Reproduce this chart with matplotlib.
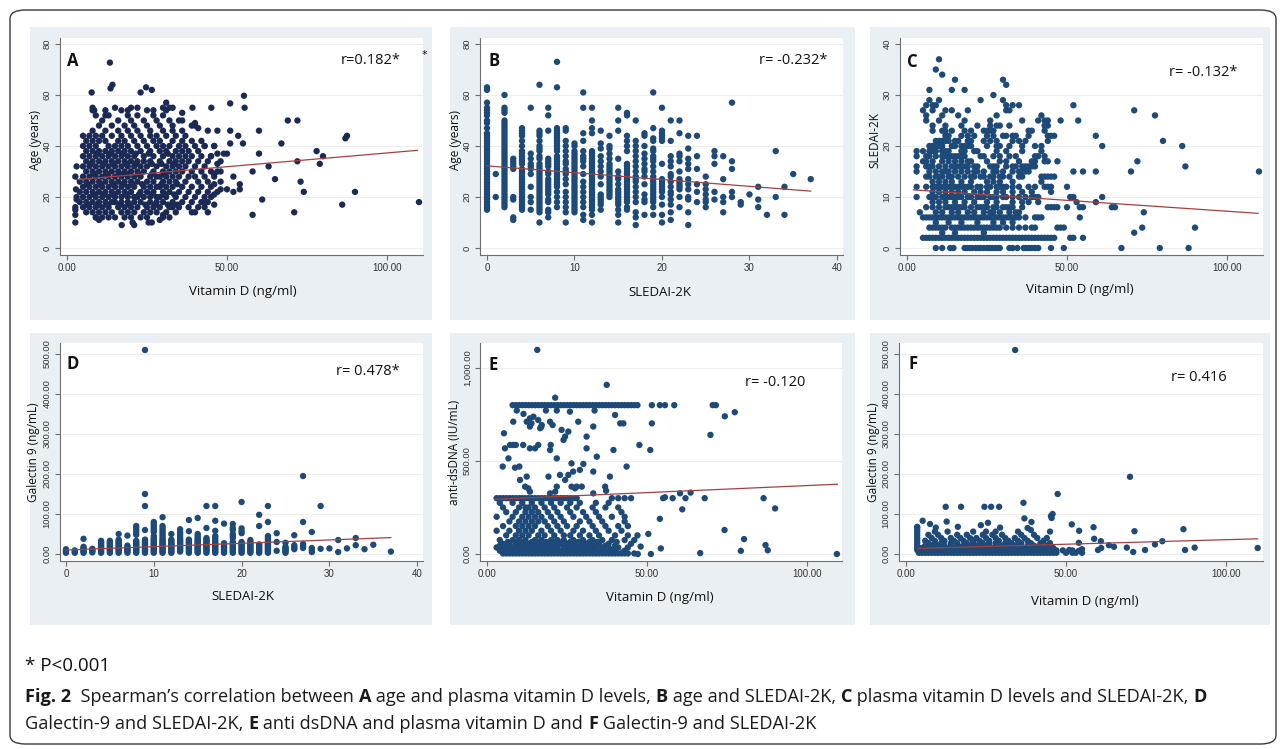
import matplotlib
matplotlib.use('Agg')
import matplotlib.pyplot as plt
from matplotlib.patches import Rectangle, FancyBboxPatch
from matplotlib import font_manager

# ---------------- DATA ----------------
# Panel A: Vitamin D (x) vs Age (y)
a_age_rows = [12, 14, 16, 18, 20, 22, 24, 26, 28, 30, 32, 34, 36, 38, 40, 42, 44, 46, 48, 50, 52, 54,
              17, 21, 25, 29, 33, 37]
a_vitd_rows = [
    [9, 11, 13, 15, 18, 20, 23, 25, 30, 32],
    [6, 8, 10, 12, 14, 17, 19, 21, 24, 26, 28, 31, 34, 40],
    [5, 7, 9, 11, 13, 16, 18, 20, 22, 25, 27, 29, 32, 35, 38, 43],
    [4, 6, 8, 10, 12, 14, 15, 17, 19, 21, 23, 26, 28, 30, 33, 36, 39, 42, 44],
    [5, 7, 9, 11, 13, 15, 17, 19, 21, 22, 24, 26, 28, 29, 31, 34, 37, 40, 43, 45],
    [4, 6, 8, 10, 12, 14, 16, 18, 20, 23, 25, 27, 30, 32, 35, 38, 41, 44, 47],
    [5, 7, 9, 11, 13, 15, 17, 19, 21, 24, 26, 28, 29, 31, 33, 36, 39, 42, 45],
    [4, 6, 8, 10, 12, 14, 16, 18, 20, 22, 25, 27, 30, 32, 34, 37, 41, 44, 48],
    [5, 7, 9, 11, 13, 15, 17, 19, 21, 23, 26, 28, 29, 31, 33, 35, 38, 40, 43, 46],
    [6, 8, 10, 12, 14, 16, 18, 20, 22, 24, 27, 30, 32, 34, 36, 39, 42, 45, 47],
    [5, 7, 9, 11, 13, 15, 17, 19, 21, 23, 25, 28, 31, 33, 35, 37, 40, 43],
    [6, 8, 10, 12, 14, 16, 18, 20, 22, 24, 26, 29, 32, 34, 36, 38, 41, 44, 48],
    [5, 7, 9, 11, 13, 15, 17, 19, 21, 24, 27, 30, 33, 35, 37, 39, 42, 45],
    [6, 8, 10, 12, 14, 16, 18, 20, 23, 26, 29, 31, 34, 36, 38, 41],
    [5, 7, 9, 13, 15, 17, 19, 22, 25, 28, 30, 32, 35, 37, 40, 43, 46],
    [6, 8, 10, 12, 16, 18, 21, 24, 27, 29, 33, 36, 39, 42],
    [5, 7, 9, 11, 14, 17, 20, 23, 26, 28, 31, 34, 37],
    [8, 12, 16, 19, 22, 26, 30, 33, 36],
    [10, 14, 18, 21, 25, 29, 33, 39],
    [11, 16, 20, 24, 28, 32, 36],
    [9, 13, 19, 22, 27, 30],
    [8, 12, 17, 25, 31],
    [6.5, 9.5, 12.5, 16.5, 19.5, 24.5, 27.5, 31.5, 34.5],
    [8.5, 11.5, 14.5, 18.5, 22.5, 26.5, 30.5, 33.5],
    [6.5, 10.5, 14.5, 17.5, 20.5, 23.5, 29.5, 34.5],
    [8.5, 12.5, 16.5, 18.5, 22.5, 26.5, 30.5],
    [7.5, 11.5, 14.5, 18.5, 21.5, 26.5, 29.5, 33.5],
    [9.5, 13.5, 17.5, 21.5, 25.5, 31.5],
]
a_vitd_extra = [13.4, 14.2, 13.6, 7.7, 23, 24.7, 26.5, 55.3, 51, 55.5, 45.1, 39.2, 31, 30, 32, 36, 40, 40,
                44, 47, 51, 53.5, 55, 60, 51, 46, 47, 67, 69, 72, 87, 87.5, 78, 79, 80, 72, 65, 63, 60, 58,
                73, 74, 90, 86, 71, 58, 61, 110, 52, 52, 54, 54, 50, 50, 49, 48, 46, 46, 44, 39, 41, 2.6,
                2.6, 2.6, 2.6, 2.8, 2.6, 3, 17.1, 20.5, 21, 25.5, 26.5, 29, 30, 33, 9, 10, 8, 8.5, 15, 12,
                20, 19, 22, 27, 33, 35, 41, 43, 45, 47, 46, 48, 46, 43, 3, 3]
a_age_extra = [72.7, 64, 62.6, 61, 61, 63, 62, 59.7, 56.7, 55, 55, 55, 57, 55, 55, 53, 49, 48,
               46, 46, 46, 44, 41, 46, 41, 40, 37, 41, 50, 50, 43, 44, 38, 33, 36, 34, 27, 32, 37, 30,
               26, 22, 22, 17, 14, 13, 19, 18, 28, 22, 23, 25, 23, 37, 37, 30, 25, 17, 14, 14, 16, 10,
               13, 15, 16, 23, 28, 32, 9, 10, 9, 10, 10, 11, 13, 16, 12, 11, 55, 54, 55, 52,
               55, 54, 55, 54, 55, 50, 47, 40, 36, 33, 29, 23, 21, 18, 19, 20]
a_fit_x = [3, 109.5]
a_fit_y = [26.8, 38.3]

# Panel B: SLEDAI-2K (x) vs Age (y)
b_sledai_levels = [0, 1, 2, 3, 4, 5, 6, 7, 8, 9, 10, 11, 12, 13, 14, 15, 16, 17, 18, 19, 20,
                   21, 22, 23, 24, 25, 26, 27, 28, 29, 30, 31, 32, 33, 34, 35, 37]
b_age_groups = [
    [15, 16, 17, 18, 19, 20, 21, 22, 23, 24, 25, 26, 27, 28, 29, 30, 31, 32, 33, 34, 35, 36, 37, 38,
     39, 40, 41, 42, 43, 44, 45, 47, 49, 50, 52, 53, 54, 55, 57, 62, 63],
    [20, 29],
    [16, 17, 18, 19, 20, 21, 22, 23, 24, 25, 26, 27, 28, 29, 30, 31, 32, 33, 34, 35, 36, 37, 38, 39,
     40, 41, 42, 43, 44, 45, 46, 47, 48, 49, 50, 53, 54, 55, 60],
    [11, 12, 19, 20, 31, 32, 33, 34, 35],
    [15, 16, 17, 18, 19, 20, 21, 22, 23, 24, 25, 26, 27, 28, 29, 30, 31, 33, 34, 35, 36, 37, 38, 40,
     42, 44, 45, 46, 47],
    [15, 18, 20, 24, 29, 31, 32, 33, 35, 37, 55],
    [10, 14, 15, 16, 17, 18, 19, 20, 21, 22, 23, 24, 25, 26, 27, 28, 29, 30, 31, 32, 33, 35, 36, 38,
     39, 40, 42, 44, 45, 46, 64],
    [12, 14, 15, 18, 19, 21, 22, 23, 24, 25, 26, 27, 29, 30, 32, 33, 34, 35, 46, 52, 55],
    [16, 18, 20, 22, 24, 25, 26, 27, 28, 29, 30, 31, 32, 33, 34, 35, 36, 38, 39, 40, 41, 42, 43, 44,
     45, 46, 47, 63, 73],
    [10, 14, 16, 18, 20, 22, 25, 27, 29, 30, 31, 33, 34, 36, 38, 40, 42, 46, 47],
    [14, 15, 16, 17, 18, 19, 20, 21, 22, 23, 24, 25, 26, 27, 28, 29, 30, 31, 32, 33, 34, 35, 36, 37,
     38, 40, 41],
    [11, 13, 16, 18, 20, 22, 24, 26, 29, 32, 34, 35, 36, 38, 42, 45, 55, 61],
    [10, 13, 15, 16, 17, 18, 19, 20, 21, 22, 23, 24, 25, 26, 27, 28, 29, 30, 31, 32, 33, 34, 35, 36,
     37, 38, 45, 47, 50, 55],
    [15, 17, 18, 19, 20, 21, 25, 28, 30, 32, 34, 36, 39, 41, 46],
    [20, 21, 22, 23, 24, 25, 26, 27, 28, 29, 30, 31, 32, 33, 35, 37, 39, 40, 44],
    [10, 13, 15, 17, 18, 19, 20, 21, 22, 23, 25, 27, 28, 30, 35, 46, 50, 55],
    [15, 16, 18, 19, 20, 21, 22, 23, 24, 25, 26, 27, 28, 29, 30, 31, 32, 33, 38, 40, 42, 44, 52, 53],
    [9, 12, 14, 18, 20, 22, 24, 26, 27, 28, 30, 32, 34, 36, 38, 40, 42, 50],
    [13, 18, 19, 21, 25, 28, 30, 31, 33, 35, 37, 40, 44, 45],
    [13, 16, 18, 19, 20, 21, 22, 23, 24, 25, 26, 27, 28, 30, 32, 34, 35, 36, 38, 39, 42, 43, 47, 61],
    [10, 13, 17, 20, 22, 23, 24, 25, 26, 27, 33, 42, 43, 44, 45, 46, 55],
    [11, 14, 17, 19, 21, 22, 24, 26, 28, 29, 32, 34, 36, 42, 50],
    [16, 20, 23, 24, 25, 26, 27, 30, 34, 36, 37, 45, 50],
    [9, 14, 19, 20, 23, 25, 27, 31, 33, 35, 39, 44],
    [18, 22, 25, 31, 36, 44],
    [16, 18, 19, 21, 23, 25, 28],
    [19, 22, 33, 36, 38],
    [14, 18, 20, 27, 36],
    [20, 22, 31, 34, 57],
    [17, 18],
    [21],
    [16, 19, 24],
    [13],
    [20, 38],
    [13, 24],
    [29],
    [27],
]
b_fit_x = [0, 37]
b_fit_y = [32.2, 22.3]

# Panel C: Vitamin D (x) vs SLEDAI-2K (y)
c_sledai_levels = [0, 2, 3, 4, 5, 6, 7, 8, 9, 10, 11, 12, 13, 14, 15, 16, 17, 18, 19, 20, 21, 22,
                   23, 24, 25, 26, 27, 28, 29, 30, 31, 32, 33, 34, 35, 37]
c_vitd_groups = [
    [9, 11, 13.5, 14.5, 18, 18.8, 19.6, 20.4, 21.5, 22.3, 23, 24, 25, 25.8, 26.6, 27.5, 28.3, 29, 32,
     33, 34.5, 36.5, 37.3, 38.2, 39, 40, 41, 45, 49, 67, 79, 88],
    [5, 6, 7, 8, 9, 10, 11, 12, 13, 14, 15, 16, 17, 18, 19, 20, 21, 22, 23, 24, 25, 26, 27, 28, 29,
     30, 31, 32, 33, 34, 35, 36, 37, 38, 39, 40, 41, 42, 43, 44, 45, 46, 51, 52, 55],
    [11, 15, 24, 71],
    [7, 8, 9, 10, 11, 12, 14, 15, 16, 17, 18, 19, 20, 21, 22, 23, 24, 25, 26, 27, 28, 29, 31, 33, 35,
     37, 39, 40, 47, 48, 49, 73.5, 90],
    [9, 13, 17, 22, 27, 30, 33],
    [5, 6, 7, 8, 9, 10, 11, 12, 13, 14, 15, 16, 17, 18, 19, 20, 21, 22, 23, 24, 25, 26, 27, 28, 29,
     30, 31, 32, 33, 34, 35, 37, 40, 41, 42, 54],
    [4, 9, 11, 14, 16, 19, 21, 24, 26, 27, 29, 32, 34, 35, 74],
    [6, 8, 10, 12, 13, 14, 15, 16, 17, 18, 20, 22, 23, 24, 25, 27, 28, 30, 31, 32, 33, 36, 44, 45, 46,
     47, 50, 54, 55, 64, 65],
    [8, 10, 12, 15, 18, 21, 25, 28, 33, 36, 38, 41, 53, 59],
    [3, 7, 8, 9, 11, 12, 13, 14, 15, 16, 17, 19, 20, 22, 23, 24, 26, 27, 28, 30, 31, 33, 35, 37, 39,
     40, 41, 51, 52, 61],
    [8, 10, 12, 14, 16, 18, 21, 23, 25, 28, 30, 33, 36, 39, 45],
    [3, 6, 8, 9, 10, 11, 12, 13, 14, 15, 16, 17, 18, 19, 20, 22, 23, 25, 26, 28, 29, 30, 31, 33, 35,
     38, 40, 43, 44, 45, 50],
    [8, 10, 12, 14, 17, 20, 25, 27, 29, 33, 42],
    [6, 7, 9, 10, 11, 13, 14, 16, 18, 20, 21, 23, 24, 26, 27, 29, 30, 32, 35, 36, 42, 43, 44, 45, 46],
    [3, 7, 9, 11, 12, 13, 15, 17, 19, 21, 22, 24, 27, 28, 30, 33, 35, 36, 37, 38, 52, 55, 59, 70, 110],
    [3, 6, 7, 8, 10, 12, 14, 15, 16, 17, 18, 19, 21, 22, 26, 27, 28, 31, 33, 34, 36, 37, 38, 39, 40, 87],
    [5, 6, 8, 11, 13, 15, 17, 19, 20, 25, 29, 31, 35, 39, 40, 43, 44, 47, 72],
    [3, 6, 7, 9, 11, 12, 13, 14, 15, 16, 17, 18, 23, 24, 27, 29, 32, 34, 40, 41, 43],
    [3, 5, 7, 8, 9, 11, 12, 13, 17, 18, 21, 22, 28, 31, 36, 42],
    [7, 8, 9, 10, 11, 14, 15, 17, 18, 19, 20, 25, 28, 29, 32, 36, 40, 42, 61, 86],
    [9, 10, 11, 12, 13, 15, 16, 19, 20, 24, 26, 28, 33, 35, 37, 44, 80],
    [12, 13, 17, 19, 21, 25, 27, 30, 31, 33, 34, 38, 44, 45, 46, 59],
    [8, 11, 12, 14, 18, 20, 24, 25, 26, 27, 38, 39, 43],
    [8, 12, 17, 22, 26, 28, 29, 32, 43, 44],
    [6, 10, 18, 26, 36, 41, 43, 44, 48, 53.5],
    [6, 11, 16, 28, 42, 77.5],
    [5, 8, 12, 14, 19, 31, 32, 71],
    [6, 8, 9, 31, 33, 35, 52],
    [7, 10, 23, 30],
    [27],
    [7, 14, 18],
    [31],
    [15, 30],
    [11],
    [9],
    [10],
]
c_fit_x = [2, 109.7]
c_fit_y = [11.4, 6.8]

# Panel D: SLEDAI-2K (x) vs Galectin 9 (y)
d_sledai_levels = [0, 1, 2, 3, 4, 5, 6, 7, 8, 9, 10, 11, 12, 13, 14, 15, 16, 17, 18, 19, 20, 21,
                   22, 23, 24, 25, 26, 27, 28, 29, 30, 31, 32, 33, 34, 35, 37]
d_gal_groups = [
    [3, 6, 9, 12],
    [3, 6, 9],
    [3, 6, 9, 12, 15, 18, 38],
    [4, 7, 10, 13],
    [3, 6, 9, 12, 15, 18, 21, 24, 27, 30, 33],
    [3, 6, 9, 12, 15, 18, 21, 24, 27, 30, 33],
    [3, 6, 9, 12, 15, 18, 21, 24, 27, 30, 33, 36, 50],
    [3, 6, 9, 12, 15, 18, 21, 46],
    [3, 6, 9, 12, 15, 18, 21, 24, 27, 30, 33, 48, 54, 60, 66, 70],
    [3, 6, 9, 12, 15, 18, 21, 24, 27, 30, 33, 36, 60, 120, 150, 510],
    [3, 6, 9, 12, 15, 18, 21, 24, 27, 30, 33, 36, 39, 45, 55, 60, 65, 70, 75, 80],
    [3, 6, 9, 12, 15, 18, 21, 24, 27, 30, 33, 36, 40, 45, 50, 55, 60, 65, 70, 92],
    [3, 6, 9, 12, 15, 18, 21, 24, 27, 30, 33, 36, 50],
    [6, 9, 12, 15, 18, 21, 24, 27, 30, 33, 36, 40, 45, 50, 55, 62],
    [3, 6, 9, 12, 15, 18, 21, 24, 27, 30, 33, 36, 57, 85],
    [3, 6, 9, 12, 15, 18, 21, 24, 27, 30, 33, 36, 40, 45, 50, 90],
    [3, 6, 9, 12, 15, 18, 21, 24, 27, 30, 33, 36, 40, 65, 120],
    [3, 6, 9, 12, 15, 18, 21, 24, 27, 30, 35, 40, 45, 58, 83, 120],
    [3, 6, 9, 12, 15, 18, 21, 24, 27, 76],
    [3, 6, 9, 12, 15, 18, 21, 24, 27, 30, 40, 45, 50, 60, 65, 75],
    [3, 6, 9, 12, 15, 18, 21, 24, 27, 30, 52, 57, 64, 130],
    [3, 6, 9, 12, 15, 18, 21, 24, 27, 30, 35],
    [3, 6, 9, 12, 15, 18, 21, 24, 70, 98],
    [3, 6, 9, 12, 15, 18, 21, 24, 27, 30, 35, 40, 45, 80, 120],
    [8, 30, 52],
    [3, 6, 9, 12, 15, 18, 28],
    [12, 15, 18, 22, 47],
    [15, 18, 21, 25, 80, 195],
    [5, 10, 15, 55],
    [13, 120],
    [14],
    [5, 35],
    [14],
    [22, 40],
    [12],
    [23],
    [6],
]
d_fit_x = [0, 37]
d_fit_y = [10, 41]

# Panel E: Vitamin D (x) vs anti-dsDNA (y)
e_dna_rows = [3, 18, 35, 55, 75, 100, 125, 150, 175, 200, 225, 250, 275, 300, 800, 10, 27, 45, 65]
e_vitd_rows = [
    [5, 6, 7, 8, 9, 10, 11, 12, 13, 14, 15, 16, 17, 18, 19, 20, 21, 22, 23, 24, 25, 26, 27, 28, 29,
     30, 31, 32, 33, 34, 35, 36, 37, 38, 39, 40, 41, 42, 43, 44, 46],
    [4, 5.5, 7, 8.5, 10, 11.5, 13, 14.5, 16, 17.5, 19, 20.5, 22, 23.5, 25, 26.5, 28, 29.5, 31, 32.5,
     34, 35.5, 37, 38.5, 40, 43],
    [3, 6, 8, 10, 12, 14, 16, 18, 20, 22, 24, 26, 28, 30, 32, 34, 36, 41, 44],
    [5, 7, 9, 11, 13, 15, 17, 19, 21, 23, 25, 27, 29, 31, 33, 35, 38, 45],
    [4, 8, 10, 12, 15, 17, 20, 22, 24, 27, 30, 33, 36, 39, 43, 46],
    [6, 9, 11, 13, 16, 18, 21, 24, 26, 29, 32, 35, 40, 44, 47],
    [3, 7, 10, 12, 14, 17, 20, 23, 27, 30, 34, 38, 42],
    [5, 9, 11, 13, 15, 19, 22, 25, 28, 33, 37, 41, 44],
    [7, 10, 12, 14, 16, 18, 21, 24, 29, 32, 36, 43],
    [3, 8, 11, 13, 15, 17, 20, 23, 27, 31, 35, 39, 43],
    [6, 9, 12, 14, 16, 19, 22, 26, 30, 34, 42],
    [5, 10, 12, 13, 15, 18, 21, 25, 28, 33, 37, 41],
    [4, 8, 11, 14, 17, 20, 23, 26, 29, 34, 38],
    [3, 4, 5, 6, 7, 8, 9, 10, 11, 12, 13, 14, 15, 16, 17, 18, 19, 20, 21, 22, 23, 24, 25, 26, 27,
     28, 39, 41, 43, 45],
    [8, 9, 10, 11, 12, 13, 14, 15, 16, 17, 18, 19, 20, 21, 22, 23, 24, 25, 26, 27, 28, 29, 30, 31, 32,
     33, 34, 35, 36, 37, 38, 39, 40, 41, 42, 43, 44, 45, 46, 47, 51.5, 54, 55.6, 58.5, 70.5, 71.5],
    [5.5, 7.5, 9.5, 11.5, 13.5, 15.5, 17.5, 19.5, 21.5, 23.5, 25.5, 27.5, 29.5, 31.5, 33.5, 35.5,
     37.5, 39.5, 42.5],
    [5, 7.5, 9.5, 12.5, 15, 17.5, 19, 21.5, 24, 27, 29, 31.5, 33, 36, 38.5],
    [4, 7, 9.5, 11, 13.5, 15.5, 17.5, 19.5, 22, 25, 27.5, 30.5, 33.5, 37, 40],
    [6.5, 9, 11.5, 14, 16.5, 18.5, 21, 23.5, 26, 28.5, 32, 34.5, 40.5],
]
e_vitd_extra = [5.3, 5.6, 4.9, 6.7, 7.2, 8.2, 9.0, 10.1, 8.75, 8.2, 9.3, 11.4, 13.4, 13.9, 11.3, 13.4,
                15, 16, 16.6, 17.1, 18.4, 19.7, 19.9, 19.7, 20.5, 21.8, 23.3, 24.4, 23.9, 25.4, 25.9,
                28.5, 21.8, 22.8, 25.4, 26.9, 26.4, 24.4, 29, 30.1, 31.1, 31.1, 34.3, 33.2, 33.2, 33.6,
                37.4, 40, 39.5, 38.4, 36.9, 37.2, 41.6, 42.6, 43.6, 47.6, 51.5, 51, 10.3, 12.4, 11.9,
                12.9, 13.4, 19.2, 21.8, 19.7, 21.3, 26.4, 27.5, 28, 29.6, 33.2, 14.5, 13.4, 16.9, 12.4,
                16, 15.7, 21.3, 69.8, 74.3, 77.4, 60.3, 61, 63.6, 62, 55, 55.6, 58, 68, 86.4, 90, 74.2,
                80.3, 79.3, 87, 87.7, 66.6, 109.3, 54, 54.3, 51.2, 50.4, 48, 47.1]
e_dna_extra = [649, 568, 470, 514, 586, 586, 586, 470, 464, 711, 771, 753, 729, 702, 586, 568,
               568, 586, 676, 693, 771, 711, 586, 559, 693, 771, 667, 631, 613, 658, 765,
               711, 514, 425, 425, 443, 487, 398, 452, 484, 631, 568, 523, 443, 685, 771,
               909, 747, 559, 416, 362, 340, 702, 702, 470, 586, 702, 559, 398, 416, 362,
               353, 335, 416, 362, 326, 335, 362, 353, 362, 362, 326, 738, 685, 681, 711,
               720, 1097, 840, 640, 740, 762, 326, 240, 330, 300, 300, 305, 300, 300, 300, 245, 129,
               80, 17, 48, 20, 5, 0, 189, 30, 0, 108, 40, 0]
e_fit_x = [2.5, 109.5]
e_fit_y = [294, 375]

# Panel F: Vitamin D (x) vs Galectin 9 (y)
f_gal_rows = [3, 9, 15, 21, 27, 33, 40, 48, 56, 6, 12, 18]
f_vitd_rows = [
    [4, 5, 6, 7, 8, 9, 10, 11, 12, 13, 14, 15, 16, 17, 18, 19, 20, 21, 22, 23, 24, 25, 26, 27, 28,
     29, 30, 31, 32, 33, 34, 35, 36, 37, 38, 39, 40, 41, 42, 43, 44, 45, 46, 47, 50, 52, 53, 55],
    [4, 5.5, 7, 8, 9.5, 11, 12, 13.5, 15, 16, 17.5, 19, 20, 21.5, 23, 24, 25.5, 27, 28, 29.5, 31, 32,
     33.5, 35, 36, 37.5, 39, 40, 41.5, 43, 44, 45.5, 47, 49, 52],
    [5, 6.5, 8, 9.5, 11, 12.5, 14, 15.5, 17, 18.5, 20, 21.5, 23, 24.5, 26, 27.5, 29, 30.5, 32, 33.5,
     35, 36.5, 38, 39.5, 41, 42.5, 44, 46],
    [6, 8, 10, 12, 14, 16, 18, 20, 22, 24, 26, 28, 30, 32, 34, 36, 38, 40, 42, 44],
    [7, 9, 11, 14, 16, 19, 21, 24, 26, 28, 31, 33, 36, 39, 42, 45],
    [6, 9, 12, 15, 18, 21, 23, 26, 29, 32, 35, 38, 43],
    [8, 11, 14, 17, 20, 22, 25, 28, 31, 34, 37, 41, 44],
    [7, 10, 16, 19, 24, 27, 30, 36, 40],
    [9, 13, 21, 25, 28, 35, 45],
    [4.5, 6.5, 8.5, 10.5, 12.5, 14.5, 16.5, 18.5, 20.5, 22.5, 24.5, 26.5, 28.5, 30.5, 32.5, 34.5,
     36.5, 38.5, 40.5, 42.5, 44.5, 46.5],
    [5.5, 7.5, 10.5, 13, 15.5, 18, 20.5, 22.5, 25, 27.5, 30, 32.5, 34.5, 37, 39, 41, 43.5],
    [6, 9, 11.5, 14, 17, 19.5, 23, 25.5, 29, 31.5, 35, 38, 41.5, 45],
]
f_vitd_extra = [3.5, 3.5, 3.5, 3.5, 3.5, 3.5, 3.5, 3.5, 3.5, 3.5, 3.5,
                34.1, 70, 47.4, 36.7, 12.4, 17.2, 24.5, 26.6, 29.1, 45.5, 45.8, 45.3, 37, 39.2, 38,
                39, 5.2, 7.5, 12.7, 9.3, 16.2, 23.4, 25.6, 29.4, 51.8, 54.1, 58.6, 58.8, 60.9, 60,
                61, 63.4, 65, 69, 71.4, 71, 74.7, 77.8, 80.1, 86.7, 87.2, 90.2, 109.9, 54, 55, 54, 51]
f_gal_extra = [10, 16, 22, 28, 34, 40, 46, 52, 58, 64, 68,
               510, 193, 150, 128, 118, 118, 118, 118, 118, 90, 100, 95, 89, 80, 65,
               60, 83, 75, 81, 66, 68, 72, 78, 66, 74, 58, 67, 38, 32, 10,
               15, 22, 18, 16, 57, 5, 10, 24, 32, 62, 10, 16, 15, 28, 12, 8, 10]
f_fit_x = [3.8, 109.9]
f_fit_y = [14, 38]

# ---------------- LAYOUT / STYLE ----------------
W, H = 1284, 749
fig = plt.figure(figsize=(W / 100, H / 100), dpi=100)
fig.patch.set_facecolor('white')

BG = '#e9eff3'
NAVY_A = '#1b2a55'
NAVY = '#1d4a78'
FIT = '#a4413f'

avail = {f.name for f in font_manager.fontManager.ttflist}
LABEL_FONT = ['Open Sans', 'DejaVu Sans']
TICK_FONT = ['Liberation Sans', 'DejaVu Sans']
CAP_FONT = ['Liberation Sans Narrow', 'Open Sans', 'DejaVu Sans'] if 'Liberation Sans Narrow' in avail \
    else ['Open Sans', 'DejaVu Sans']


def fx(x):
    return x / W


def fy(y):
    return 1 - y / H


def add_bg(l, t, r, b):
    fig.add_artist(Rectangle((fx(l), fy(b)), (r - l) / W, (b - t) / H, transform=fig.transFigure,
                             facecolor=BG, edgecolor='none', zorder=0))


def px_axes(l, t, r, b):
    ax = fig.add_axes([fx(l), fy(b), (r - l) / W, (b - t) / H])
    ax.set_zorder(2)
    return ax


def style(ax, xlim, ylim, xticks, xtl, yticks, ytl):
    ax.set_facecolor('white')
    ax.set_xlim(xlim)
    ax.set_ylim(ylim)
    for s in ['top', 'right']:
        ax.spines[s].set_visible(False)
    for s in ['left', 'bottom']:
        ax.spines[s].set_color('#6f6f6f')
        ax.spines[s].set_linewidth(0.8)
    ax.set_xticks(xticks)
    ax.set_xticklabels(xtl, fontsize=7, color='#333333', family=TICK_FONT)
    ax.set_yticks(yticks)
    ax.set_yticklabels(ytl, fontsize=6.8, color='#333333', family=TICK_FONT, rotation=90, va='center')
    ax.tick_params(length=3.5, width=0.8, color='#6f6f6f', pad=2.5)
    ax.grid(axis='y', color='#eeeeee', lw=0.8)
    ax.set_axisbelow(True)


def ftext(x, y, s, **kw):
    fig.text(fx(x), fy(y), s, **kw)


# backgrounds
for (l, r) in [(30, 432), (450, 855), (870, 1270)]:
    add_bg(l, 27, r, 320)
    add_bg(l, 333, r, 625)

# outer rounded frame
fig.add_artist(FancyBboxPatch((fx(10), fy(744)), 1266 / W, 734 / H,
                              boxstyle='round,pad=0,rounding_size=0.012', transform=fig.transFigure,
                              fill=False, edgecolor='#3a3a3a', lw=1.0, zorder=1))

MS = 21
pct_ticks = ['0.00', '50.00', '100.00']


def expand_rows(levels, groups):
    xs, ys = [], []
    for lv, g in zip(levels, groups):
        for v in g:
            xs.append(v)
            ys.append(lv)
    return xs, ys


def expand_cols(levels, groups):
    xs, ys = [], []
    for lv, g in zip(levels, groups):
        for v in g:
            xs.append(lv)
            ys.append(v)
    return xs, ys


# ---- Panel A
ax = px_axes(60, 38, 423, 255)
style(ax, (-2.19, 111.25), (-2.75, 82.35), [0, 50, 100], pct_ticks, [0, 20, 40, 60, 80],
      ['0', '20', '40', '60', '80'])
ax_x, ax_y = expand_rows(a_age_rows, a_vitd_rows)
ax.scatter(ax_x + a_vitd_extra, ax_y + a_age_extra, s=MS, c=NAVY_A, edgecolors='none', zorder=3)
ax.plot(a_fit_x, a_fit_y, color=FIT, lw=0.9, zorder=4)

# ---- Panel B
ax = px_axes(480, 38, 843, 255)
style(ax, (-0.8, 40.69), (-2.75, 82.35), [0, 10, 20, 30, 40], ['0', '10', '20', '30', '40'],
      [0, 20, 40, 60, 80], ['0', '20', '40', '60', '80'])
bx, by = expand_cols(b_sledai_levels, b_age_groups)
ax.scatter(bx, by, s=MS, c=NAVY, edgecolors='none', zorder=3)
ax.plot(b_fit_x, b_fit_y, color=FIT, lw=0.9, zorder=4)

# ---- Panel C
ax = px_axes(900, 38, 1263, 255)
style(ax, (-2.19, 111.25), (-1.37, 41.18), [0, 50, 100], pct_ticks, [0, 10, 20, 30, 40],
      ['0', '10', '20', '30', '40'])
cx, cy = expand_rows(c_sledai_levels, c_vitd_groups)
ax.scatter(cx, cy, s=MS, c=NAVY, edgecolors='none', zorder=3)
ax.plot(c_fit_x, c_fit_y, color=FIT, lw=0.9, zorder=4)

# ---- Panel D
ax = px_axes(60, 343, 423, 561)
style(ax, (-0.68, 40.66), (-17.5, 527.5), [0, 10, 20, 30, 40], ['0', '10', '20', '30', '40'],
      [0, 100, 200, 300, 400, 500], ['0.00', '100.00', '200.00', '300.00', '400.00', '500.00'])
dx, dy = expand_cols(d_sledai_levels, d_gal_groups)
ax.scatter(dx, dy, s=MS, c=NAVY, edgecolors='none', zorder=3, clip_on=False)
ax.plot(d_fit_x, d_fit_y, color=FIT, lw=0.9, zorder=4)

# ---- Panel E
ax = px_axes(480, 343, 842, 561)
style(ax, (-2.19, 110.9), (-37.6, 1134), [0, 50, 100], pct_ticks, [0, 500, 1000],
      ['0.00', '500.00', '1,000.00'])
ex, ey = expand_rows(e_dna_rows, e_vitd_rows)
ax.scatter(ex + e_vitd_extra, ey + e_dna_extra, s=MS, c=NAVY, edgecolors='none', zorder=3)
ax.plot(e_fit_x, e_fit_y, color=FIT, lw=0.9, zorder=4)

# ---- Panel F
ax = px_axes(899, 343, 1263, 561)
style(ax, (-2.19, 111.56), (-17.5, 527.5), [0, 50, 100], pct_ticks,
      [0, 100, 200, 300, 400, 500], ['0.00', '100.00', '200.00', '300.00', '400.00', '500.00'])
fx_, fy_ = expand_rows(f_gal_rows, f_vitd_rows)
ax.scatter(fx_ + f_vitd_extra, fy_ + f_gal_extra, s=MS, c=NAVY, edgecolors='none', zorder=3,
           clip_on=False)
ax.plot(f_fit_x, f_fit_y, color=FIT, lw=0.9, zorder=4)

# ---- panel letters and r values
letter_kw = dict(fontsize=12, fontweight='bold', color='#111111', family=LABEL_FONT,
                 ha='left', va='center', zorder=10)
r_kw = dict(fontsize=10.5, color='#111111', family=LABEL_FONT, ha='left', va='center', zorder=10)
for (lx, ly, L) in [(67, 61, 'A'), (488, 61, 'B'), (907, 62, 'C'),
                    (67, 364, 'D'), (488, 365, 'E'), (908, 364, 'F')]:
    ftext(lx, ly, L, **letter_kw)
for (rx, ry, s) in [(341, 61, 'r=0.182*'), (759, 61, 'r= -0.232*'), (1169, 72, 'r= -0.132*'),
                    (336, 372, 'r= 0.478*'), (745, 382, 'r= -0.120'), (1171, 377, 'r= 0.416')]:
    ftext(rx, ry, s, **r_kw)
ftext(424, 55, '*', fontsize=8, color='#111111', ha='center', va='center', zorder=10)

# ---- axis titles
ylab_kw = dict(fontsize=8.5, color='#111111', family=LABEL_FONT, rotation=90, ha='center', va='center')
for (x, y, s) in [(35, 140, 'Age (years)'), (455, 140, 'Age (years)'), (875, 140, 'SLEDAI-2K'),
                  (33, 452, 'Galectin 9 (ng/mL)'), (455, 452, 'anti-dsDNA (IU/mL)'),
                  (874, 452, 'Galectin 9 (ng/mL)')]:
    ftext(x, y, s, **ylab_kw)
xlab_kw = dict(fontsize=9.5, color='#111111', family=LABEL_FONT, ha='center', va='center')
for (x, y, s) in [(243, 292, 'Vitamin D (ng/ml)'), (660, 293, 'SLEDAI-2K'), (1080, 289, 'Vitamin D (ng/ml)'),
                  (243, 597, 'SLEDAI-2K'), (660, 597, 'Vitamin D (ng/ml)'), (1085, 602, 'Vitamin D (ng/ml)')]:
    ftext(x, y, s, **xlab_kw)

# ---- footnote and caption
ftext(25, 666, '* P<0.001', fontsize=13.5, color='#111111', family=LABEL_FONT, ha='left', va='center')

renderer = fig.canvas.get_renderer()
line1 = [('Fig. 2', True), ('  Spearman\u2019s correlation between ', False), ('A', True),
         (' age and plasma vitamin D levels, ', False), ('B', True), (' age and SLEDAI-2K, ', False),
         ('C', True), (' plasma vitamin D levels and SLEDAI-2K, ', False), ('D', True)]
line2 = [('Galectin-9 and SLEDAI-2K, ', False), ('E', True), (' anti dsDNA and plasma vitamin D and ', False),
         ('F', True), (' Galectin-9 and SLEDAI-2K', False)]


def draw_line(parts, x0, y, size):
    x = x0
    arts = []
    for s, b in parts:
        t = fig.text(fx(x), fy(y), s, fontsize=size, fontweight='bold' if b else 'normal',
                     family=CAP_FONT, color='#1a1a1a', ha='left', va='center')
        bb = t.get_window_extent(renderer=renderer)
        x += bb.width
        arts.append(t)
    return x, arts


size = 11.5
end, arts = draw_line(line1, 25, 697, size)
for a in arts:
    a.remove()
size = size * (1210 - 25) / (end - 25)
draw_line(line1, 25, 697, size)
draw_line(line2, 25, 724, size)

fig.savefig('out.png', dpi=100, facecolor='white')
